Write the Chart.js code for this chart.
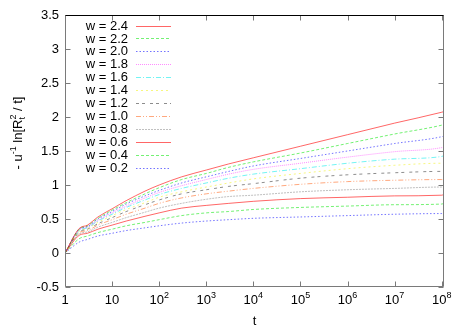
<!DOCTYPE html>
<html>
<head>
<meta charset="utf-8">
<title>- u^-1 ln[R_t^2 / t] vs t</title>
<script src="https://cdn.jsdelivr.net/npm/chart.js@4.4.0/dist/chart.umd.min.js"></script>
<style>
    html, body { margin: 0; padding: 0; background: #fff; }
    #chart { display: block; }
</style>
</head>
<body>
<canvas id="chart" width="467" height="327"></canvas>
<script>
// ========================================
// Data
// ========================================

const tValues = [1, 2, 3, 5, 10, 20, 50, 100, 300, 1e3, 3e3, 1e4, 1e5, 1e6, 1e7, 1e8, 1.12e8];

const w24 = [0, 0.36, 0.41, 0.53, 0.65, 0.77, 0.91, 1.00, 1.12, 1.22, 1.31, 1.40, 1.57, 1.74, 1.91, 2.07, 2.08];
const w22 = [0, 0.35, 0.40, 0.51, 0.63, 0.74, 0.87, 0.96, 1.08, 1.17, 1.26, 1.34, 1.47, 1.61, 1.75, 1.88, 1.89];
const w20 = [0, 0.35, 0.39, 0.50, 0.61, 0.72, 0.84, 0.92, 1.03, 1.12, 1.20, 1.28, 1.39, 1.50, 1.61, 1.71, 1.72];
const w18 = [0, 0.34, 0.38, 0.48, 0.59, 0.69, 0.81, 0.89, 0.99, 1.08, 1.16, 1.23, 1.32, 1.41, 1.49, 1.55, 1.56];
const w16 = [0, 0.33, 0.37, 0.47, 0.57, 0.67, 0.78, 0.86, 0.95, 1.03, 1.10, 1.16, 1.24, 1.32, 1.38, 1.42, 1.43];
const w14 = [0, 0.32, 0.36, 0.45, 0.55, 0.64, 0.74, 0.82, 0.90, 0.97, 1.03, 1.09, 1.17, 1.24, 1.29, 1.32, 1.32];
const w12 = [0, 0.31, 0.35, 0.43, 0.52, 0.61, 0.71, 0.78, 0.87, 0.93, 0.98, 1.02, 1.10, 1.15, 1.18, 1.20, 1.20];
const w10 = [0, 0.30, 0.33, 0.41, 0.49, 0.57, 0.66, 0.73, 0.81, 0.87, 0.91, 0.95, 1.01, 1.05, 1.07, 1.08, 1.08];
const w08 = [0, 0.28, 0.31, 0.38, 0.45, 0.52, 0.60, 0.66, 0.73, 0.79, 0.83, 0.85, 0.90, 0.93, 0.95, 0.97, 0.97];
const w06 = [0, 0.26, 0.29, 0.35, 0.41, 0.47, 0.54, 0.59, 0.66, 0.70, 0.73, 0.76, 0.80, 0.82, 0.84, 0.85, 0.86];
const w04 = [0, 0.21, 0.25, 0.30, 0.35, 0.40, 0.45, 0.49, 0.55, 0.59, 0.61, 0.64, 0.67, 0.69, 0.71, 0.72, 0.73];
const w02 = [0, 0.16, 0.20, 0.25, 0.29, 0.33, 0.37, 0.40, 0.44, 0.47, 0.49, 0.51, 0.53, 0.55, 0.57, 0.58, 0.58];

const seriesLabels = ['w = 2.4', 'w = 2.2', 'w = 2.0', 'w = 1.8', 'w = 1.6', 'w = 1.4',
                      'w = 1.2', 'w = 1.0', 'w = 0.8', 'w = 0.6', 'w = 0.4', 'w = 0.2'];
const seriesValues = [w24, w22, w20, w18, w16, w14, w12, w10, w08, w06, w04, w02];

const xTickValues = [1, 10, 1e2, 1e3, 1e4, 1e5, 1e6, 1e7, 1e8];
const xTickBases = ['1', '10', '10', '10', '10', '10', '10', '10', '10'];
const xTickExps = ['', '', '2', '3', '4', '5', '6', '7', '8'];
const yTickValues = [-0.5, 0, 0.5, 1, 1.5, 2, 2.5, 3, 3.5];

// gnuplot-like line types (colour + dash), repeating after nine
const lineColors = ['rgba(255,0,0,0.6)', 'rgba(0,230,0,0.55)', 'rgba(0,0,255,0.55)',
                    'rgba(255,0,255,0.45)', 'rgba(0,235,235,0.55)', 'rgba(240,240,0,0.5)',
                    'rgba(0,0,0,0.45)', 'rgba(255,110,40,0.6)', 'rgba(130,130,130,0.5)',
                    'rgba(255,0,0,0.6)', 'rgba(0,230,0,0.55)', 'rgba(0,0,255,0.55)'];
const lineDashes = [[], [3, 2], [1.5, 2], [1, 1], [5, 2, 1, 2], [2, 3],
                    [3, 3, 3, 5], [5, 2, 1, 2, 1, 2], [2, 1], [], [3, 2], [1.5, 2]];

const FONT = '"Liberation Sans", Arial, Helvetica, sans-serif';

// ========================================
// Frame, ticks, labels and key (gnuplot look)
// ========================================

function drawRich(ctx, parts, x0, y0) {
    // parts: plain text, superscript, subscript, or stacked sub/sup
    let x = x0;
    parts.forEach(p => {
        if (p.kind === 'stack') {
            ctx.font = '9px ' + FONT;
            ctx.fillText(p.sub, x, y0 + 3);
            ctx.fillText(p.sup, x, y0 - 6);
            x += Math.max(ctx.measureText(p.sub).width, ctx.measureText(p.sup).width);
            return;
        }
        ctx.font = (p.kind === 'n' ? '13px ' : '9px ') + FONT;
        const dy = p.kind === 'sup' ? -6 : p.kind === 'sub' ? 3 : 0;
        ctx.fillText(p.text, x, y0 + dy);
        x += ctx.measureText(p.text).width;
    });
    return x - x0;
}

const gnuplotFrame = {
    id: 'gnuplotFrame',
    afterDraw(chart) {
        const { ctx, chartArea: a, scales: { x, y } } = chart;
        const L = Math.round(a.left) + 0.5, R = Math.round(a.right) - 0.5;
        const T = Math.round(a.top) + 0.5, B = Math.round(a.bottom) - 0.5;
        ctx.save();

        // tick marks, inward, mirrored on all sides
        ctx.strokeStyle = '#7a7a7a';
        ctx.lineWidth = 1;
        ctx.beginPath();
        xTickValues.forEach(v => {
            const px = Math.round(x.getPixelForValue(v)) + 0.5;
            ctx.moveTo(px, B); ctx.lineTo(px, B - 5);
            ctx.moveTo(px, T); ctx.lineTo(px, T + 5);
        });
        yTickValues.forEach(v => {
            const py = Math.round(y.getPixelForValue(v)) + 0.5;
            ctx.moveTo(L, py); ctx.lineTo(L + 5, py);
            ctx.moveTo(R, py); ctx.lineTo(R - 5, py);
        });
        ctx.stroke();

        // border
        ctx.beginPath();
        ctx.moveTo(L, T); ctx.lineTo(L, B); ctx.lineTo(R, B); ctx.lineTo(R, T);
        ctx.stroke();
        ctx.strokeStyle = '#000';
        ctx.beginPath();
        ctx.moveTo(L, T); ctx.lineTo(R, T);
        ctx.stroke();

        ctx.fillStyle = '#000';

        // y tick labels
        ctx.font = '13px ' + FONT;
        ctx.textAlign = 'right';
        ctx.textBaseline = 'middle';
        yTickValues.forEach(v => {
            ctx.fillText(String(v), a.left - 6, y.getPixelForValue(v));
        });

        // x tick labels with superscript exponents
        ctx.textAlign = 'left';
        ctx.textBaseline = 'alphabetic';
        xTickValues.forEach((v, i) => {
            ctx.font = '13px ' + FONT;
            const bw = ctx.measureText(xTickBases[i]).width;
            ctx.font = '9px ' + FONT;
            const ew = xTickExps[i] ? ctx.measureText(xTickExps[i]).width : 0;
            const x0 = x.getPixelForValue(v) - (bw + ew) / 2;
            ctx.font = '13px ' + FONT;
            ctx.fillText(xTickBases[i], x0, 304);
            if (ew) {
                ctx.font = '9px ' + FONT;
                ctx.fillText(xTickExps[i], x0 + bw, 298);
            }
        });

        // axis titles
        ctx.font = '13px ' + FONT;
        ctx.textAlign = 'center';
        ctx.fillText('t', (a.left + a.right) / 2, 325);

        ctx.textAlign = 'left';
        const yTitle = [
            { kind: 'n', text: '- u' },
            { kind: 'sup', text: '-1' },
            { kind: 'n', text: ' ln[R' },
            { kind: 'stack', sub: 't', sup: '2' },
            { kind: 'n', text: ' / t]' }
        ];
        ctx.save();
        ctx.translate(22, 133);
        ctx.rotate(-Math.PI / 2);
        ctx.globalAlpha = 0;
        const tw = drawRich(ctx, yTitle, 0, 0);
        ctx.globalAlpha = 1;
        drawRich(ctx, yTitle, -tw / 2, 0);
        ctx.restore();

        // key
        chart.data.datasets.forEach((ds, i) => {
            const ry = 25.5 + i * 12.95;
            ctx.font = '13px ' + FONT;
            ctx.textAlign = 'right';
            ctx.textBaseline = 'middle';
            ctx.fillStyle = '#000';
            ctx.fillText(ds.label, 128, ry + 0.5);
            ctx.strokeStyle = ds.borderColor;
            ctx.setLineDash(ds.borderDash);
            ctx.beginPath();
            ctx.moveTo(136, Math.round(ry) + 0.5);
            ctx.lineTo(171, Math.round(ry) + 0.5);
            ctx.stroke();
            ctx.setLineDash([]);
        });

        ctx.restore();
    }
};

// ========================================
// Chart
// ========================================

const datasets = seriesValues.map((vals, i) => ({
    label: seriesLabels[i],
    data: tValues.map((t, k) => ({ x: t, y: vals[k] })),
    borderColor: lineColors[i],
    borderDash: lineDashes[i],
    borderWidth: 1,
    pointRadius: 0,
    cubicInterpolationMode: 'monotone',
    fill: false
}));

new Chart(document.getElementById('chart'), {
    type: 'line',
    data: { datasets },
    options: {
        responsive: false,
        animation: false,
        devicePixelRatio: 1,
        layout: { padding: { left: 0, right: 23, top: 15, bottom: 0 } },
        plugins: {
            legend: { display: false },
            tooltip: { enabled: false }
        },
        scales: {
            x: {
                type: 'logarithmic',
                min: 1,
                max: 1.12e8,
                grid: { display: false },
                border: { display: false },
                ticks: { display: false },
                afterBuildTicks: scale => { scale.ticks = xTickValues.map(v => ({ value: v })); },
                afterFit: scale => { scale.height = 40; }
            },
            y: {
                type: 'linear',
                min: -0.5,
                max: 3.5,
                grid: { display: false },
                border: { display: false },
                ticks: { display: false, stepSize: 0.5 },
                afterFit: scale => { scale.width = 65; }
            }
        }
    },
    plugins: [gnuplotFrame]
});
</script>
</body>
</html>
